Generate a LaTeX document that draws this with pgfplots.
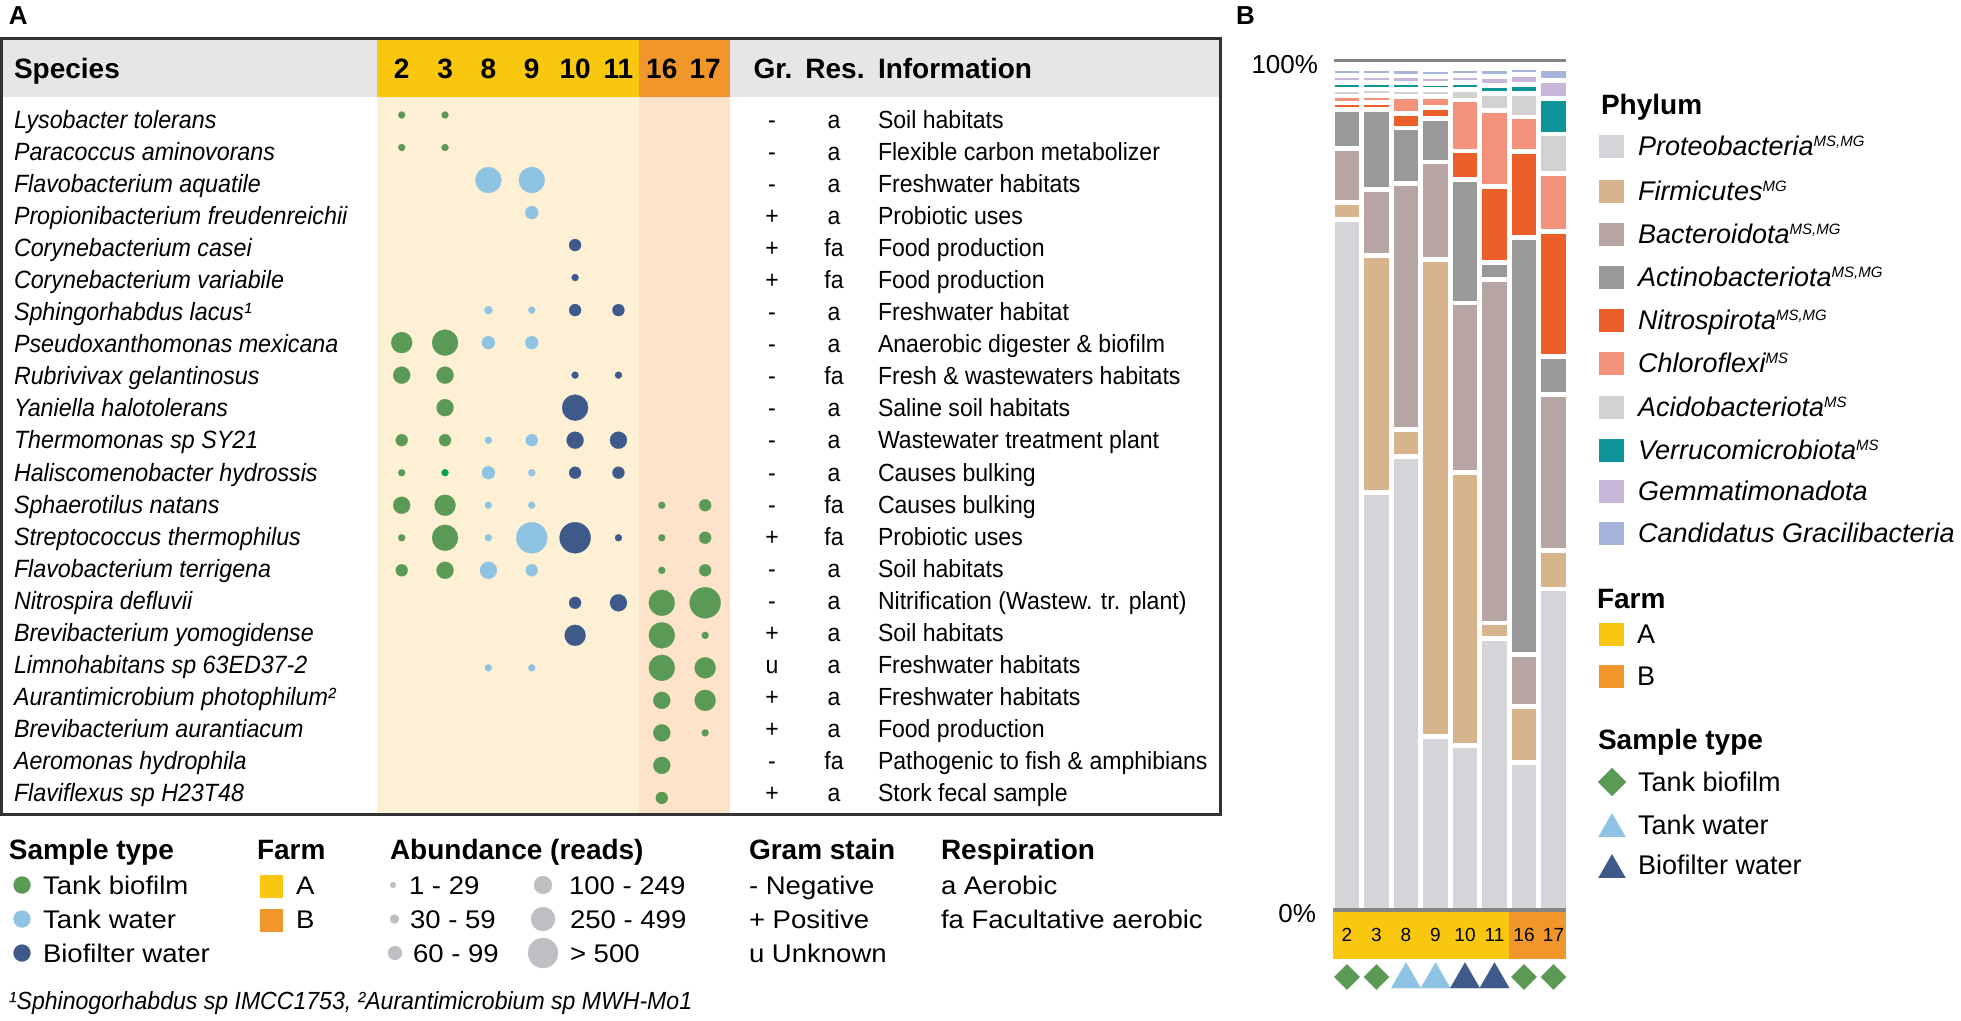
\documentclass[border=0pt]{standalone}
\usepackage{pgfplots}
\pgfplotsset{compat=1.18}
\usepackage{fontspec}
\setmainfont{Liberation Sans}
\newfontfamily\nar[FakeStretch=0.93]{Liberation Sans}
\newfontfamily\wid[FakeStretch=1.08]{Liberation Sans}
\newcommand\fs[1]{\fontsize{#1}{#1}\selectfont}
\newcommand\sps[1]{\raisebox{4.6pt}{\fs{7.5pt}#1}}
\definecolor{cYel}{HTML}{F9C80E}
\definecolor{cOra}{HTML}{F0962A}
\definecolor{cLYel}{HTML}{FEF0D4}
\definecolor{cLOra}{HTML}{FCE3C9}
\definecolor{cHead}{HTML}{E6E6E6}
\definecolor{cBord}{HTML}{333333}
\definecolor{cGreen}{HTML}{5B9A55}
\definecolor{cLBlue}{HTML}{8EC3E3}
\definecolor{cDBlue}{HTML}{3E5A8B}
\definecolor{cBGreen}{HTML}{00A34F}
\definecolor{cAbund}{HTML}{BEBFC3}
\definecolor{cAxis}{HTML}{858585}
\definecolor{pProt}{HTML}{D4D4D9}
\definecolor{pFirm}{HTML}{D7B48B}
\definecolor{pBact}{HTML}{B6A5A3}
\definecolor{pActi}{HTML}{999999}
\definecolor{pNitr}{HTML}{EC5F29}
\definecolor{pChlo}{HTML}{F4917A}
\definecolor{pAcid}{HTML}{D2D2D2}
\definecolor{pVerr}{HTML}{0E9599}
\definecolor{pGemm}{HTML}{C8B6D9}
\definecolor{pCand}{HTML}{A7B5DC}
\pgfplotsset{
  bub/.style={only marks, scatter, mark=*,
    scatter/use mapped color={draw=#1,fill=#1,line width=0.1pt},
    visualization depends on={\thisrow{s} \as \rr},
    scatter/@pre marker code/.append style={/tikz/mark size=\rr pt}},
  lm/.style={only marks, color=#1, mark options={draw=#1,fill=#1,line width=0.1pt}},
  sw/.style={only marks, mark=square*, mark size=6pt, color=#1, mark options={draw=#1,fill=#1,line width=0.1pt,yscale=0.92}},
  dm/.style={only marks, mark=square*, color=#1, mark options={draw=#1,fill=#1,line width=0.1pt,rotate=45}},
  seg/.style={fill=#1, draw=white, line width=2.4pt}
}
\begin{document}
\begin{tikzpicture}
% ---------- backgrounds ----------
\begin{scope}[x=0.5pt,y=-0.5pt,yshift=510.5pt]
\fill[cHead] (3,40) rectangle (1219,97);
\fill[cYel] (377,40) rectangle (639,97);
\fill[cOra] (639,40) rectangle (730,97);
\fill[cLYel] (377,97) rectangle (639,813.5);
\fill[cLOra] (639,97) rectangle (730,813.5);
\draw[color=cBord, line width=1.5pt] (1.5,38.5) rectangle (1220,815);
\fill[cYel] (1333,912) rectangle (1508.5,959);
\fill[cOra] (1508.5,912) rectangle (1565.5,959);
\end{scope}
% ---------- canvas axis: bubbles and legend symbols ----------
\begin{axis}[at={(0pt,0pt)}, anchor=south west, scale only axis,
  width=980.5pt, height=510.5pt, xmin=0, xmax=1961, ymin=0, ymax=1021,
  y dir=reverse, hide axis, clip=false]
% tank biofilm
\addplot[bub=cGreen] table[row sep=\\, x expr=401.7+43.35*\thisrow{c}, y expr=115+32.52*\thisrow{r}] {
c r s\\
0 0 1.75\\ 1 0 1.75\\ 0 1 1.75\\ 1 1 1.75\\
0 7 5.25\\ 1 7 6.5\\ 0 8 4.25\\ 1 8 4.25\\ 1 9 4.25\\
0 10 3\\ 1 10 3\\ 0 11 1.75\\
0 12 4.25\\ 1 12 5.25\\ 6 12 1.75\\ 7 12 3\\
0 13 1.75\\ 1 13 6.5\\ 6 13 1.75\\ 7 13 3\\
0 14 3\\ 1 14 4.25\\ 6 14 1.75\\ 7 14 3\\
6 15 6.5\\ 7 15 7.75\\ 6 16 6.5\\ 7 16 1.75\\
6 17 6.5\\ 7 17 5.25\\ 6 18 4.25\\ 7 18 5.25\\
6 19 4.25\\ 7 19 1.75\\ 6 20 4.25\\ 6 21 3\\
};
\addplot[bub=cBGreen] table[row sep=\\, x expr=401.7+43.35*\thisrow{c}, y expr=115+32.52*\thisrow{r}] {
c r s\\
1 11 1.75\\
};
% tank water
\addplot[bub=cLBlue] table[row sep=\\, x expr=401.7+43.35*\thisrow{c}, y expr=115+32.52*\thisrow{r}] {
c r s\\
2 2 6.5\\ 3 2 6.5\\ 3 3 3.25\\ 2 6 2\\ 3 6 1.75\\
2 7 3.25\\ 3 7 3.25\\ 2 10 1.75\\ 3 10 3\\
2 11 3.25\\ 3 11 1.75\\ 2 12 1.75\\ 3 12 1.75\\
2 13 1.75\\ 3 13 7.75\\ 2 14 4.25\\ 3 14 3\\
2 17 1.75\\ 3 17 1.75\\
};
% biofilter water
\addplot[bub=cDBlue] table[row sep=\\, x expr=401.7+43.35*\thisrow{c}, y expr=115+32.52*\thisrow{r}] {
c r s\\
4 4 3\\ 4 5 1.75\\ 4 6 3\\ 5 6 3\\ 4 8 1.75\\ 5 8 1.75\\
4 9 6.5\\ 4 10 4.25\\ 5 10 4.25\\ 4 11 3\\ 5 11 3\\
4 13 7.75\\ 5 13 1.75\\ 4 15 3\\ 5 15 4.25\\ 4 16 5.25\\
};
% legend A: sample type
\addplot[lm=cGreen, mark=*, mark size=4.25pt] coordinates {(22,885)};
\addplot[lm=cLBlue, mark=*, mark size=4.25pt] coordinates {(22,919)};
\addplot[lm=cDBlue, mark=*, mark size=4.25pt] coordinates {(22,953)};
% legend A: farm
\addplot[lm=cYel, mark=square*, mark size=5.5pt] coordinates {(271,886)};
\addplot[lm=cOra, mark=square*, mark size=5.5pt] coordinates {(271,920)};
% legend A: abundance
\addplot[bub=cAbund] table[row sep=\\] {
x y s\\
393 885 1.5\\ 394.5 919 2.25\\ 395 953 3.5\\
543 885 4.5\\ 543 919 6\\ 543 953 7.5\\
};
% legend B: phylum swatches
\addplot[sw=pProt] coordinates {(1611,146)};
\addplot[sw=pFirm] coordinates {(1611,191)};
\addplot[sw=pBact] coordinates {(1611,234)};
\addplot[sw=pActi] coordinates {(1611,277)};
\addplot[sw=pNitr] coordinates {(1611,320)};
\addplot[sw=pChlo] coordinates {(1611,363)};
\addplot[sw=pAcid] coordinates {(1611,407)};
\addplot[sw=pVerr] coordinates {(1611,450)};
\addplot[sw=pGemm] coordinates {(1611,491)};
\addplot[sw=pCand] coordinates {(1611,533)};
% legend B: farm
\addplot[sw=cYel] coordinates {(1611,634)};
\addplot[sw=cOra] coordinates {(1611,676)};
% legend B: sample type
\addplot[dm=cGreen, mark size=4.95pt] coordinates {(1612,782)};
\addplot[lm=cLBlue, mark=triangle*, mark size=7.8pt] coordinates {(1612,829)};
\addplot[lm=cDBlue, mark=triangle*, mark size=7.8pt] coordinates {(1612,870)};
% panel B sample-type markers under the bars
\addplot[dm=cGreen, mark size=4.5pt] table[row sep=\\, x expr=1347+29.5*\thisrow{i}, y expr=977] {
i\\ 0\\ 1\\ 6\\ 7\\
};
\addplot[lm=cLBlue, mark=triangle*, mark size=8.5pt] table[row sep=\\, x expr=1347+29.5*\thisrow{i}, y expr=979.5] {
i\\ 2\\ 3\\
};
\addplot[lm=cDBlue, mark=triangle*, mark size=8.5pt] table[row sep=\\, x expr=1347+29.5*\thisrow{i}, y expr=979.5] {
i\\ 4\\ 5\\
};
\end{axis}
% ---------- panel B stacked bars ----------
\begin{axis}[at={(666.125pt,55.5pt)}, anchor=south west, scale only axis,
  width=118pt, height=424.5pt, xmin=-0.5, xmax=7.5, ymin=0, ymax=100,
  ybar stacked, bar width=14.75pt, hide axis, clip=false]
\addplot[seg=pProt] coordinates {(0,81.3) (1,49.2) (2,53.4) (3,20.4) (4,19.4) (5,32.0) (6,17.4) (7,37.8)};
\addplot[seg=pFirm] coordinates {(0,2.0) (1,27.9) (2,3.2) (3,56.2) (4,32.1) (5,1.8) (6,6.6) (7,4.5)};
\addplot[seg=pBact] coordinates {(0,6.4) (1,7.8) (2,29.0) (3,11.5) (4,20.0) (5,40.5) (6,6.1) (7,18.4)};
\addplot[seg=pActi] coordinates {(0,4.6) (1,9.4) (2,6.5) (3,5.1) (4,14.5) (5,2.0) (6,49.1) (7,4.5)};
\addplot[seg=pNitr] coordinates {(0,0.75) (1,0.8) (2,1.73) (3,1.3) (4,3.4) (5,8.9) (6,10.1) (7,14.7)};
\addplot[seg=pChlo] coordinates {(0,0.82) (1,0.8) (2,1.94) (3,1.33) (4,6.0) (5,9.0) (6,4.1) (7,6.8)};
\addplot[seg=pAcid] coordinates {(0,0.81) (1,0.8) (2,0.83) (3,0.77) (4,1.2) (5,1.95) (6,2.8) (7,4.7)};
\addplot[seg=pVerr] coordinates {(0,0.80) (1,0.8) (2,0.80) (3,0.78) (4,0.82) (5,0.92) (6,1.0) (7,4.2)};
\addplot[seg=pGemm] coordinates {(0,0.83) (1,0.8) (2,0.83) (3,0.79) (4,0.85) (5,1.12) (6,1.2) (7,2.1)};
\addplot[seg=pCand] coordinates {(0,0.82) (1,0.8) (2,0.84) (3,0.82) (4,0.82) (5,0.86) (6,0.8) (7,1.35)};
\end{axis}
% ---------- text and axis lines ----------
\begin{scope}[x=0.5pt,y=-0.5pt,yshift=510.5pt, every node/.style={inner sep=0pt,outer sep=0pt}]
\draw[color=cAxis, line width=2pt] (1333,910) -- (1566,910);
\draw[color=cAxis, line width=1.5pt] (1334,61) -- (1566,61);
\node[anchor=base west,font=\bfseries\fs{13pt}] at (9,25) {A};
\node[anchor=base west,font=\bfseries\fs{13pt}] at (1236,25) {B};
\node[anchor=base west,font=\bfseries\fs{14pt}] at (14,79) {Species};
\foreach \lab [count=\i from 0] in {2,3,8,9,10,11,16,17}{
  \pgfmathsetmacro\xx{401.7+43.35*\i}
  \node[anchor=base,font=\bfseries\fs{14pt}] at (\xx,79) {\lab};}
\node[anchor=base,font=\bfseries\fs{14pt}] at (773,79) {Gr.};
\node[anchor=base,font=\bfseries\fs{14pt}] at (835,79) {Res.};
\node[anchor=base west,font=\bfseries\fs{14pt}] at (878,79) {Information};
\foreach \sp/\gr/\re/\inf [count=\i from 0] in {
 Lysobacter tolerans/-/a/Soil habitats,
 Paracoccus aminovorans/-/a/Flexible carbon metabolizer,
 Flavobacterium aquatile/-/a/Freshwater habitats,
 Propionibacterium freudenreichii/+/a/Probiotic uses,
 Corynebacterium casei/+/fa/Food production,
 Corynebacterium variabile/+/fa/Food production,
 Sphingorhabdus lacus¹/-/a/Freshwater habitat,
 Pseudoxanthomonas mexicana/-/a/Anaerobic digester \& biofilm,
 Rubrivivax gelantinosus/-/fa/Fresh \& wastewaters habitats,
 Yaniella halotolerans/-/a/Saline soil habitats,
 Thermomonas sp SY21/-/a/Wastewater treatment plant,
 Haliscomenobacter hydrossis/-/a/Causes bulking,
 Sphaerotilus natans/-/fa/Causes bulking,
 Streptococcus thermophilus/+/fa/Probiotic uses,
 Flavobacterium terrigena/-/a/Soil habitats,
 Nitrospira defluvii/-/a/Nitrification (Wastew. tr. plant),
 Brevibacterium yomogidense/+/a/Soil habitats,
 Limnohabitans sp 63ED37-2/u/a/Freshwater habitats,
 Aurantimicrobium photophilum²/+/a/Freshwater habitats,
 Brevibacterium aurantiacum/+/a/Food production,
 Aeromonas hydrophila/-/fa/Pathogenic to fish \& amphibians,
 Flaviflexus sp H23T48/+/a/Stork fecal sample}{
  \pgfmathsetmacro\yb{128.3+32.07*\i}
  \node[anchor=base west,font=\nar\itshape\fs{12.5pt}] at (14,\yb) {\sp};
  \node[anchor=base,font=\nar\fs{12.4pt}] at (772,\yb) {\gr};
  \node[anchor=base,font=\nar\fs{12.4pt}] at (834,\yb) {\re};
  \node[anchor=base west,font=\nar\fs{12.4pt}] at (878,\yb) {\inf};
}
% legend A
\foreach \t/\x in {Sample type/9, Farm/257, Abundance (reads)/390, Gram stain/749, Respiration/941}{
  \node[anchor=base west,font=\bfseries\fs{14pt}] at (\x,860) {\t};}
\begin{scope}[every node/.append style={anchor=base west,font=\wid\fs{12.75pt}}]
\node at (43,894.5) {Tank biofilm};
\node at (43,928.5) {Tank water};
\node at (43,962.5) {Biofilter water};
\node at (296,894.5) {A};
\node at (296,928.5) {B};
\node at (409,894.5) {1 - 29};
\node at (410,928.5) {30 - 59};
\node at (413,962.5) {60 - 99};
\node at (569,894.5) {100 - 249};
\node at (570,928.5) {250 - 499};
\node at (570,962.5) {> 500};
\node at (749,894.5) {- Negative};
\node at (749,928.5) {+ Positive};
\node at (749,962.5) {u Unknown};
\node at (941,894.5) {a Aerobic};
\node at (941,928.5) {fa Facultative aerobic};
\end{scope}
\node[anchor=base west,font=\nar\itshape\fs{12.4pt}] at (9,1010) {¹Sphinogorhabdus sp IMCC1753, ²Aurantimicrobium sp MWH-Mo1};
% panel B labels
\node[anchor=base east,font=\fs{13pt}] at (1318,73.3) {100\%};
\node[anchor=base east,font=\fs{13pt}] at (1316,923) {0\%};
\foreach \lab [count=\i from 0] in {2,3,8,9,10,11,16,17}{
  \pgfmathsetmacro\xx{1347+29.5*\i}
  \node[anchor=base,font=\fs{9.5pt}] at (\xx,941.8) {\lab};}
\node[anchor=base west,font=\bfseries\fs{14pt}] at (1601,114.5) {Phylum};
\begin{scope}[every node/.append style={anchor=base west,font=\itshape\fs{13.5pt}}]
\node at (1638,155.7) {Proteobacteria\sps{MS,MG}};
\node at (1638,200.7) {Firmicutes\sps{MG}};
\node at (1638,243.7) {Bacteroidota\sps{MS,MG}};
\node at (1638,286.7) {Actinobacteriota\sps{MS,MG}};
\node at (1638,329.7) {Nitrospirota\sps{MS,MG}};
\node at (1638,372.7) {Chloroflexi\sps{MS}};
\node at (1638,416.7) {Acidobacteriota\sps{MS}};
\node at (1638,459.7) {Verrucomicrobiota\sps{MS}};
\node at (1638,500.7) {Gemmatimonadota};
\node at (1638,542.7) {Candidatus Gracilibacteria};
\end{scope}
\node[anchor=base west,font=\bfseries\fs{14pt}] at (1597,609) {Farm};
\node[anchor=base west,font=\fs{13.5pt}] at (1637,643.7) {A};
\node[anchor=base west,font=\fs{13.5pt}] at (1637,685.7) {B};
\node[anchor=base west,font=\bfseries\fs{14pt}] at (1598,750) {Sample type};
\node[anchor=base west,font=\fs{13.5pt}] at (1638,792) {Tank biofilm};
\node[anchor=base west,font=\fs{13.5pt}] at (1638,834.7) {Tank water};
\node[anchor=base west,font=\fs{13.5pt}] at (1638,874.7) {Biofilter water};
\end{scope}
\pgfresetboundingbox
\path (0,0) rectangle (980.5pt,510.5pt);
\end{tikzpicture}
\end{document}
